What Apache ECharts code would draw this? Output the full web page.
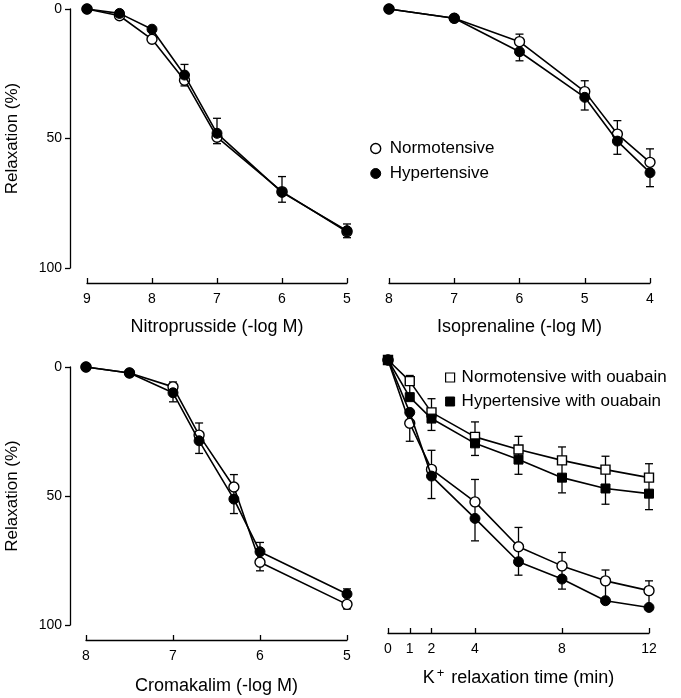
<!DOCTYPE html>
<html>
<head>
<meta charset="utf-8">
<script src="https://cdn.jsdelivr.net/npm/echarts@6/dist/echarts.min.js"></script>
<style>html,body{margin:0;padding:0;background:#fff}#c{width:681px;height:698px}</style>
</head>
<body>
<div id="c"></div>
<script>
// ---- Data ----
// Nitroprusside (-log M)
var nitroX = [9, 8.5, 8, 7.5, 7, 6, 5];
var nitroNormo = [0, 2.6, 11.7, 27.5, 49.5, 70.5, 86];
var nitroHyper = [0, 1.7, 7.8, 25.5, 48, 70.8, 85.6];
var nitroErr = [[7.5, 21.4, 29.7], [7, 42.2, 52], [6, 64.7, 74.6], [5, 83, 88.3]];
// Isoprenaline (-log M)
var isoX = [8, 7, 6, 5, 4.5, 4];
var isoNormo = [0, 3.6, 12.6, 31.9, 48.3, 59.2];
var isoHyper = [0, 3.6, 16.5, 34.1, 51, 63.2];
var isoErr = [[7, 2.5, 4.8], [6, 9.7, 20], [5, 27.7, 39], [4.5, 43.1, 56.1], [4, 54, 68.6]];
// Cromakalim (-log M)
var cromX = [8, 7.5, 7, 6.7, 6.3, 6, 5];
var cromNormo = [0, 2.3, 7.7, 26.4, 46.5, 75.7, 92];
var cromHyper = [0, 2.3, 10, 28.6, 51.2, 71.6, 88];
var cromErr = [[7, 5.8, 13.5], [6.7, 21.7, 33.5], [6.3, 41.7, 56.8], [6, 68, 79], [5, 86, 93.8]];
// K+ relaxation time (min)
var timeX = [0, 1, 2, 4, 6, 8, 10, 12];
var kNormoOua = [0, 8.2, 20.3, 29.8, 34.7, 38.9, 42.5, 45.6];
var kHyperOua = [0, 14.4, 22.7, 32.3, 38.6, 45.6, 49.8, 51.8];
var kNormo = [0, 24.5, 42.4, 55, 72.4, 79.8, 85.6, 89.4];
var kHyper = [0, 20.3, 45, 61.4, 78.2, 84.9, 93.3, 95.9];
var kOuaErr = [[1, 6, 14.4], [2, 15, 27.3], [4, 24, 37], [6, 29.6, 44.3], [8, 33.7, 51.5], [10, 37.3, 55.9], [12, 40.2, 58]];
var kErr = [[1, 20.3, 31.5], [2, 35, 53.7], [4, 46.3, 70.1], [6, 64.9, 83.4], [8, 74.6, 88.8], [10, 81.4, 93.3], [12, 85.6, 95.9]];
var timeTicks = [0, 1, 2, 4, 8, 12];

// ---- Helpers ----
var FONT = "'Liberation Sans', Arial, Helvetica, sans-serif";
function zip(xs, ys) { return xs.map(function (x, i) { return [x, ys[i]]; }); }
var openStyle = { color: '#fff', borderColor: '#000', borderWidth: 1.4 };
var fillStyle = { color: '#000', borderColor: '#000', borderWidth: 1 };
function lineSeries(name, idx, xs, ys, symbol, open, size) {
  return {
    name: name, type: 'line', xAxisIndex: idx, yAxisIndex: idx,
    data: zip(xs, ys), symbol: symbol, symbolSize: size, showSymbol: true,
    lineStyle: { color: '#000', width: 1.6 },
    itemStyle: open ? openStyle : fillStyle, z: open ? 3 : 4, silent: true
  };
}
function errSeries(idx, data) {
  return {
    type: 'custom', xAxisIndex: idx, yAxisIndex: idx, data: data, z: 2, silent: true,
    encode: { x: 0, y: [1, 2] },
    renderItem: function (params, api) {
      var x = api.value(0), lo = api.value(1), hi = api.value(2);
      var p1 = api.coord([x, lo]), p2 = api.coord([x, hi]);
      var w = 4, st = { stroke: '#000', lineWidth: 1.3 };
      return { type: 'group', children: [
        { type: 'line', shape: { x1: p1[0], y1: p1[1], x2: p2[0], y2: p2[1] }, style: st },
        { type: 'line', shape: { x1: p1[0] - w, y1: p1[1], x2: p1[0] + w, y2: p1[1] }, style: st },
        { type: 'line', shape: { x1: p2[0] - w, y1: p2[1], x2: p2[0] + w, y2: p2[1] }, style: st }
      ] };
    }
  };
}
function xAxis(idx, min, max, name, opts) {
  var a = {
    type: 'value', gridIndex: idx, min: min, max: max, position: 'bottom', offset: opts.offset,
    inverse: opts.inverse, interval: opts.interval, splitLine: { show: false },
    axisLine: { show: true, onZero: false, lineStyle: { color: '#000', width: 1.3 } },
    axisTick: { show: true, inside: true, length: 5, lineStyle: { color: '#000', width: 1.3 } },
    axisLabel: { color: '#000', fontSize: 14, fontFamily: FONT, margin: 9 },
    name: name, nameLocation: 'middle', nameGap: opts.nameGap,
    nameTextStyle: { color: '#000', fontSize: 18, fontFamily: FONT, rich: opts.rich }
  };
  if (opts.custom) {
    a.axisTick.customValues = opts.custom;
    a.axisLabel.customValues = opts.custom;
  }
  return a;
}
function yAxis(idx, show, offset) {
  return {
    type: 'value', gridIndex: idx, min: 0, max: 100, inverse: true, interval: 50, show: show,
    offset: offset, splitLine: { show: false },
    axisLine: { show: true, onZero: false, lineStyle: { color: '#000', width: 1.3 } },
    axisTick: { show: true, inside: false, length: 5, lineStyle: { color: '#000', width: 1.3 } },
    axisLabel: { color: '#000', fontSize: 14, fontFamily: FONT, margin: 8 },
    name: 'Relaxation (%)', nameLocation: 'middle', nameGap: 49, nameRotate: 90,
    nameTextStyle: { color: '#000', fontSize: 17, fontFamily: FONT }
  };
}

var chart = echarts.init(document.getElementById('c'), null, { renderer: 'canvas' });
chart.setOption({
  animation: false,
  backgroundColor: '#fff',
  grid: [
    { left: 87, top: 9, width: 260, height: 259 },
    { left: 389, top: 9, width: 261, height: 259 },
    { left: 86, top: 367, width: 261, height: 258 },
    { left: 388, top: 360, width: 261, height: 258 }
  ],
  xAxis: [
    xAxis(0, 5, 9, 'Nitroprusside (-log M)', { offset: 15, inverse: true, interval: 1, nameGap: 35 }),
    xAxis(1, 4, 8, 'Isoprenaline (-log M)', { offset: 15, inverse: true, interval: 1, nameGap: 35 }),
    xAxis(2, 5, 8, 'Cromakalim (-log M)', { offset: 15, inverse: true, interval: 1, nameGap: 37 }),
    xAxis(3, 0, 12, '{t|K}{s|+}{t| relaxation time (min)}', { offset: 15, inverse: false, nameGap: 34, custom: timeTicks,
      rich: { t: { fontSize: 18, fontFamily: FONT, color: '#000' }, s: { fontSize: 13, fontFamily: FONT, color: '#000', verticalAlign: 'top', padding: [0, 2, 9, 2] } } })
  ],
  yAxis: [yAxis(0, true, 17), yAxis(1, false, 0), yAxis(2, true, 16), yAxis(3, false, 0)],
  legend: [
    { orient: 'vertical', left: 365, top: 135, itemGap: 8, icon: 'circle', itemWidth: 10, itemHeight: 10,
      textStyle: { color: '#000', fontSize: 17, fontFamily: FONT, padding: [0, 0, 0, 4] }, selectedMode: false,
      data: [{ name: 'Normotensive', itemStyle: openStyle }, { name: 'Hypertensive', itemStyle: fillStyle }] },
    { orient: 'vertical', left: 440, top: 364, itemGap: 7, icon: 'rect', itemWidth: 9, itemHeight: 9,
      textStyle: { color: '#000', fontSize: 17, fontFamily: FONT, padding: [0, 0, 0, 2] }, selectedMode: false,
      data: [{ name: 'Normotensive with ouabain', itemStyle: { color: '#fff', borderColor: '#000', borderWidth: 1.2 } },
             { name: 'Hypertensive with ouabain', itemStyle: fillStyle }] }
  ],
  series: [
    errSeries(0, nitroErr),
    lineSeries('Normotensive', 0, nitroX, nitroNormo, 'circle', true, 10),
    lineSeries('Hypertensive', 0, nitroX, nitroHyper, 'circle', false, 10),
    errSeries(1, isoErr),
    lineSeries('Normotensive', 1, isoX, isoNormo, 'circle', true, 10),
    lineSeries('Hypertensive', 1, isoX, isoHyper, 'circle', false, 10),
    errSeries(2, cromErr),
    lineSeries('Normotensive', 2, cromX, cromNormo, 'circle', true, 10),
    lineSeries('Hypertensive', 2, cromX, cromHyper, 'circle', false, 10),
    errSeries(3, kOuaErr),
    errSeries(3, kErr),
    lineSeries('Normotensive with ouabain', 3, timeX, kNormoOua, 'rect', true, 9),
    lineSeries('Hypertensive with ouabain', 3, timeX, kHyperOua, 'rect', false, 9),
    lineSeries('Normotensive', 3, timeX, kNormo, 'circle', true, 10),
    lineSeries('Hypertensive', 3, timeX, kHyper, 'circle', false, 10)
  ]
});
</script>
</body>
</html>
